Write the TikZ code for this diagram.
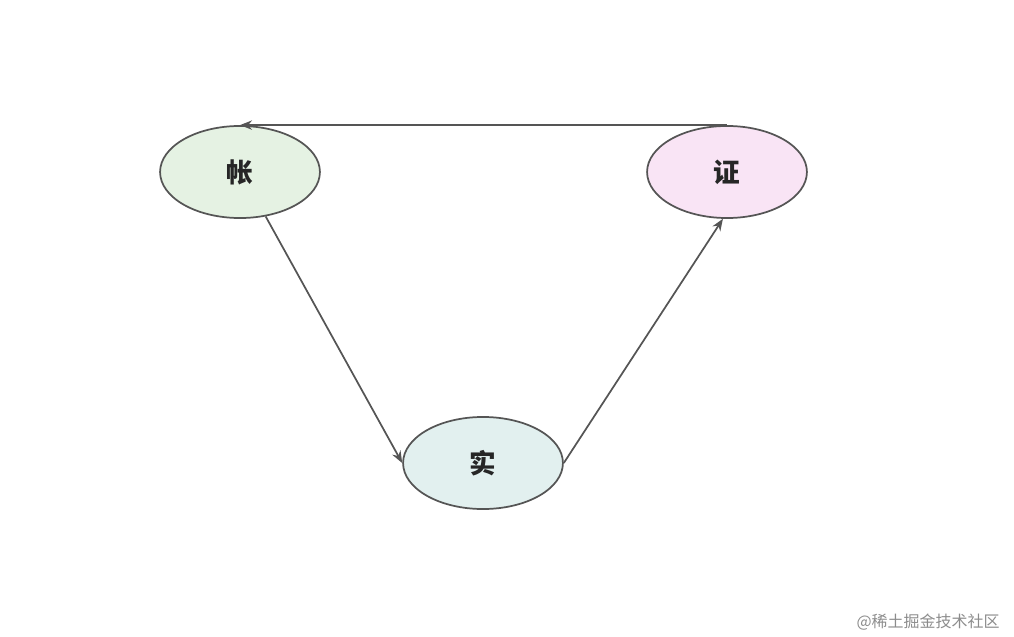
\documentclass[tikz,border=0pt]{standalone}
\usepackage{fontspec}
\newfontfamily\cjk{Noto Sans CJK SC}
\usetikzlibrary{shapes.geometric,arrows.meta}
\definecolor{edge}{HTML}{555555}
\definecolor{fa}{HTML}{E5F2E3}
\definecolor{fb}{HTML}{F9E4F5}
\definecolor{fc}{HTML}{E2F0EF}
\tikzset{
  nd/.style={ellipse,draw=edge,line width=1.3pt,minimum width=4.22cm,minimum height=2.43cm,inner sep=0pt,font=\cjk\bfseries\fontsize{20}{24}\selectfont,text=black!85},
  ar/.style={draw=edge,line width=1.3pt,-{Stealth[length=9pt,width=7pt]}}
}
\begin{document}
\begin{tikzpicture}[x=0.0264cm,y=-0.0264cm]
\useasboundingbox (0,0) rectangle (1014,637);
\node[nd,fill=fa] (a) at (240,172) {帐};
\node[nd,fill=fb] (b) at (727,172) {证};
\node[nd,fill=fc] (c) at (483,463) {实};
\draw[ar] (b.north) -- (a.north);
\draw[ar] (a.-60) -- (c.west);
\draw[ar] (c.east) -- (b.-95);
\node[font=\cjk\fontsize{12}{14}\selectfont,text=black!45] (w) at (928,622) {@稀土掘金技术社区};
\end{tikzpicture}
\end{document}
